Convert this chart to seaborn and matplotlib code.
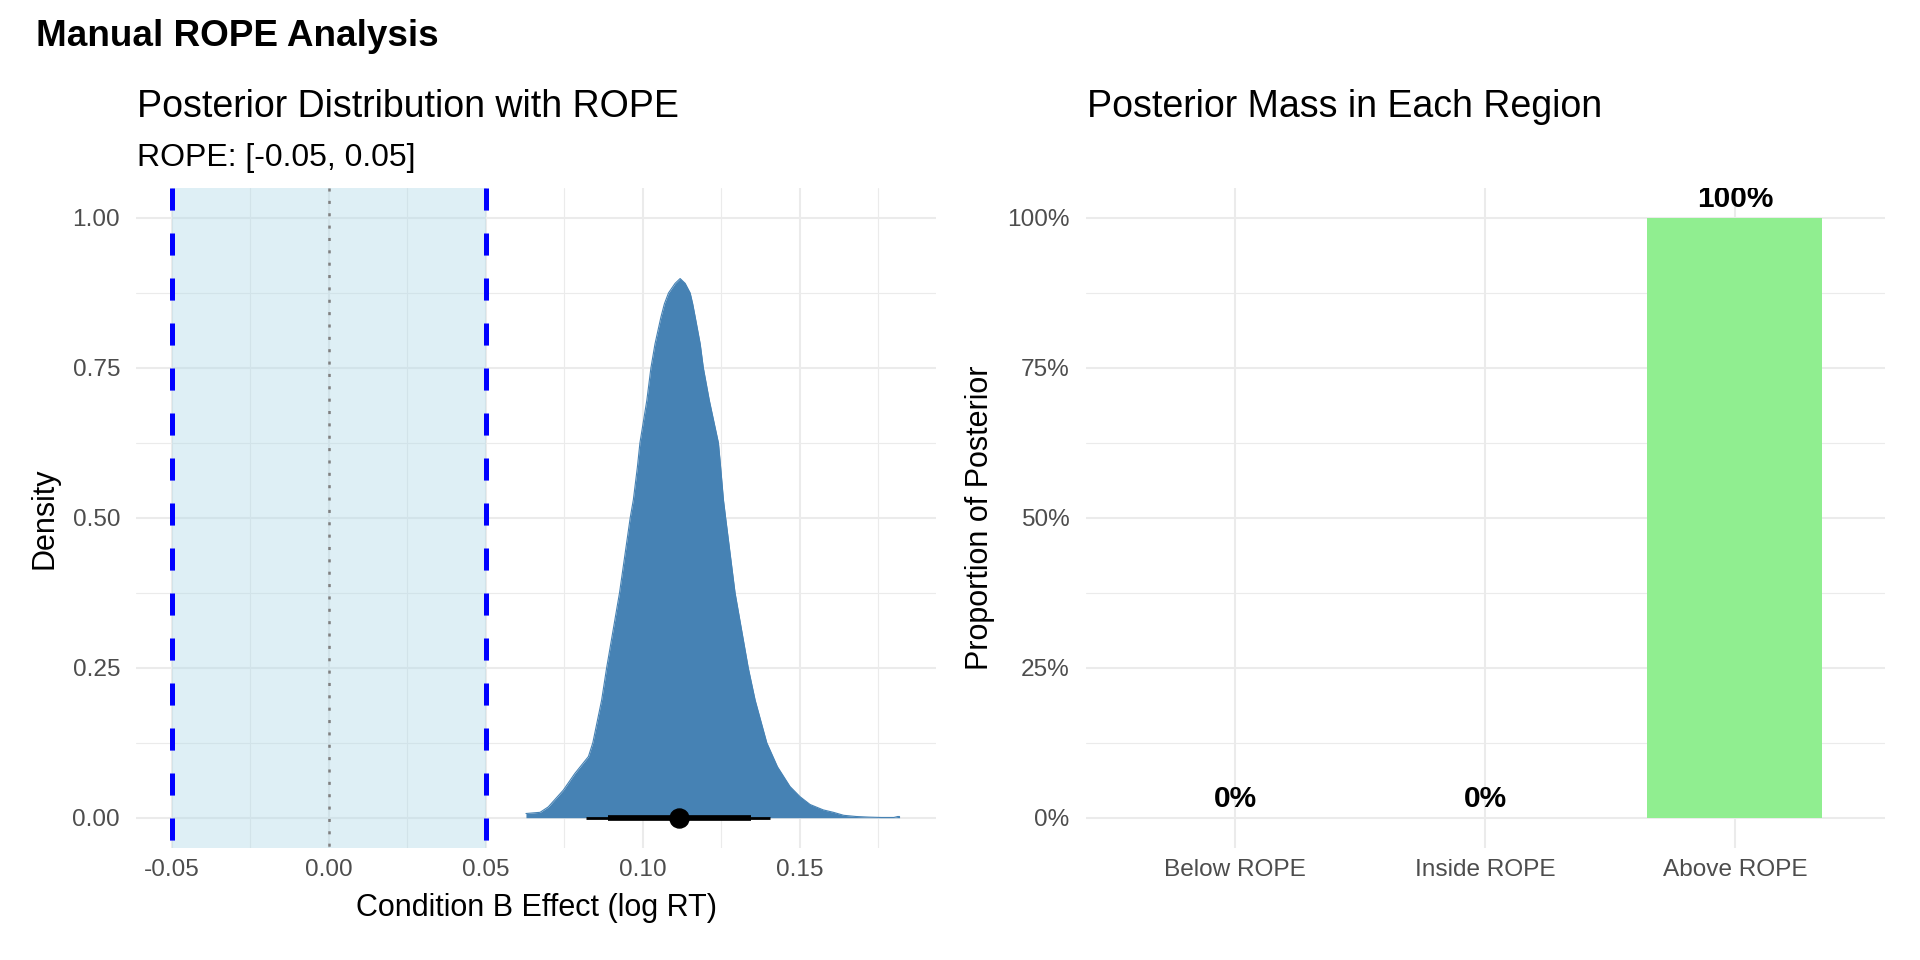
import matplotlib
matplotlib.use("Agg")
import matplotlib.pyplot as plt
import seaborn as sns
from matplotlib.ticker import FixedLocator

# ---------------- data ----------------
density_x = [0.0628, 0.0673, 0.0699, 0.0747, 0.0784, 0.0827, 0.0841, 0.0869,
             0.0885, 0.0926, 0.0960, 0.0970, 0.0983, 0.0991, 0.1013, 0.1026,
             0.1039, 0.1058, 0.1069, 0.1082, 0.1103, 0.1119, 0.1135, 0.1151,
             0.1159, 0.1167, 0.1183, 0.1193, 0.1212, 0.1241, 0.1248, 0.1257,
             0.1264, 0.1294, 0.1336, 0.1358, 0.1395, 0.1429, 0.1469, 0.1501,
             0.1533, 0.1575, 0.1607, 0.1640, 0.1680, 0.1720, 0.1760, 0.1800,
             0.1812, 0.1818]
density_y = [0.007, 0.009, 0.018, 0.046, 0.074, 0.102, 0.125, 0.196,
             0.250, 0.375, 0.500, 0.530, 0.585, 0.625, 0.696, 0.750,
             0.790, 0.835, 0.857, 0.875, 0.891, 0.899, 0.891, 0.875,
             0.857, 0.835, 0.790, 0.750, 0.696, 0.625, 0.585, 0.530,
             0.500, 0.375, 0.250, 0.196, 0.125, 0.085, 0.052, 0.035,
             0.022, 0.013, 0.009, 0.004, 0.002, 0.001, 0.0004, 0.0004,
             0.002, 0.002]
point_estimate = 0.1115
interval_66 = [0.0889, 0.1345]
interval_95 = [0.0820, 0.1405]
rope_bounds = [-0.05, 0.05]

regions = ["Below ROPE", "Inside ROPE", "Above ROPE"]
proportions = [0.0, 0.0, 1.0]
prop_labels = ["0%", "0%", "100%"]

x_ticks = [-0.05, 0.00, 0.05, 0.10, 0.15]
x_tick_labels = ["-0.05", "0.00", "0.05", "0.10", "0.15"]
x_minor = [-0.025, 0.025, 0.075, 0.125, 0.175]
y_ticks = [0.0, 0.25, 0.50, 0.75, 1.00]
y_minor = [0.125, 0.375, 0.625, 0.875]
y_tick_labels_left = ["0.00", "0.25", "0.50", "0.75", "1.00"]
y_tick_labels_right = ["0%", "25%", "50%", "75%", "100%"]

# ---------------- style ----------------
sns.set_style("white")
plt.rcParams['font.family'] = ['Liberation Sans', 'DejaVu Sans']
plt.rcParams['text.color'] = 'black'
plt.rcParams['axes.labelcolor'] = 'black'
plt.rcParams['lines.scale_dashes'] = False

W, H = 1920, 960
fig = plt.figure(figsize=(19.2, 9.6), dpi=100)
ax_bottom = 1 - 847.7 / H
ax_height = 659.7 / H
ax1 = fig.add_axes([136 / W, ax_bottom, 800 / W, ax_height])
ax2 = fig.add_axes([1085.5 / W, ax_bottom, 799.2 / W, ax_height])

TICK_COL = '#4D4D4D'
GRID_COL = '#EBEBEB'


def style_axes(ax):
    for s in ax.spines.values():
        s.set_visible(False)
    ax.set_axisbelow(True)
    ax.grid(True, which='major', color=GRID_COL, lw=1.5)
    ax.grid(True, which='minor', color=GRID_COL, lw=0.8)
    ax.tick_params(which='both', length=0)
    ax.tick_params(axis='x', pad=8.4, labelsize=17.6, labelcolor=TICK_COL)
    ax.tick_params(axis='y', pad=11.5, labelsize=17.6, labelcolor=TICK_COL)


# ---------------- left panel ----------------
ax1.axvspan(rope_bounds[0], rope_bounds[1], color='lightblue', alpha=0.4, lw=0, zorder=1)
for r in rope_bounds:
    ax1.plot([r, r], [1.05, -0.05], color='blue', lw=3.6,
             linestyle=(0, (15.9, 16.5)), dash_capstyle='butt', zorder=3)
ax1.plot([0, 0], [1.05, -0.05], color='#7F7F7F', lw=1.8,
         linestyle=(0, (2.2, 6.7)), dash_capstyle='butt', zorder=3)

ax1.fill_between(density_x, 0, density_y, color='steelblue', lw=0, zorder=3)
sns.lineplot(x=density_x, y=density_y, ax=ax1, color='steelblue', lw=0.8,
             sort=False, zorder=3)

ax1.plot(interval_95, [0, 0], color='black', lw=2.0, solid_capstyle='butt', zorder=4)
ax1.plot(interval_66, [0, 0], color='black', lw=4.1, solid_capstyle='butt', zorder=4)
ax1.plot([point_estimate], [0], marker='o', ms=13.7, color='black', lw=0, zorder=5)

ax1.set_xlim(-0.0614, 0.1934)
ax1.set_ylim(-0.05, 1.05)
ax1.set_xticks(x_ticks)
ax1.set_xticklabels(x_tick_labels)
ax1.xaxis.set_minor_locator(FixedLocator(x_minor))
ax1.set_yticks(y_ticks)
ax1.set_yticklabels(y_tick_labels_left)
ax1.yaxis.set_minor_locator(FixedLocator(y_minor))
style_axes(ax1)

ax1.set_xlabel("Condition B Effect (log RT)", fontsize=22, va='center', color='black')
ax1.xaxis.set_label_coords(0.5, -(908 - 847.7) / 659.7)
ax1.set_ylabel("Density", fontsize=22, va='center', ha='center', color='black')
ax1.yaxis.set_label_coords((45 - 136) / 800, 0.5)

# ---------------- right panel ----------------
sns.barplot(x=regions, y=proportions, ax=ax2, color='lightgreen', saturation=1,
            width=0.7, errorbar=None, linewidth=0, zorder=2)
for i, (v, lab) in enumerate(zip(proportions, prop_labels)):
    ax2.annotate(lab, (i, v), xytext=(0, 7.6), textcoords='offset points',
                 ha='center', va='baseline', fontsize=21.5, fontweight='bold',
                 color='black', clip_on=True, zorder=5)

ax2.set_xlim(-0.6, 2.6)
ax2.set_ylim(-0.05, 1.05)
ax2.set_yticks(y_ticks)
ax2.set_yticklabels(y_tick_labels_right)
ax2.yaxis.set_minor_locator(FixedLocator(y_minor))
style_axes(ax2)
ax2.set_xlabel("")
ax2.set_ylabel("Proportion of Posterior", fontsize=22, va='center', ha='center', color='black')
ax2.yaxis.set_label_coords((980 - 1085.5) / 799.2, 0.5)

# ---------------- titles ----------------
fig.text(36 / W, 1 - 46 / H, "Manual ROPE Analysis", fontsize=26.6,
         fontweight='bold', va='baseline', ha='left', color='black')
fig.text(137 / W, 1 - 117 / H, "Posterior Distribution with ROPE", fontsize=27,
         va='baseline', ha='left', color='black')
fig.text(137 / W, 1 - 166 / H, "ROPE: [-0.05, 0.05]", fontsize=23,
         va='baseline', ha='left', color='black')
fig.text(1087 / W, 1 - 117 / H, "Posterior Mass in Each Region", fontsize=27,
         va='baseline', ha='left', color='black')

fig.savefig("out.png", dpi=100, facecolor='white')
